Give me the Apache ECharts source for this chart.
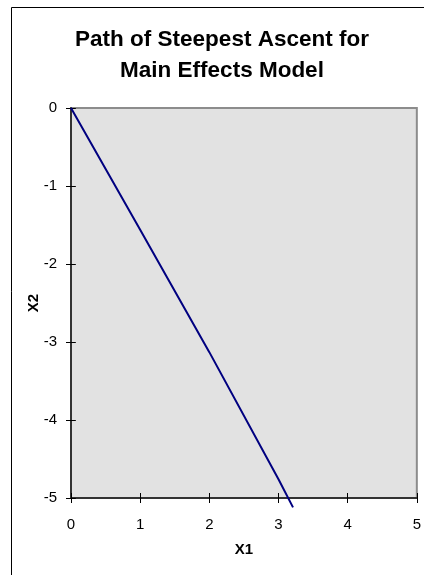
<!DOCTYPE html>
<html>
<head>
<meta charset="utf-8">
<script src="https://cdn.jsdelivr.net/npm/echarts@6/dist/echarts.min.js"></script>
<style>
  html, body { margin: 0; padding: 0; background: #fff; }
  #chart { width: 424px; height: 575px; }
</style>
</head>
<body>
<div id="chart"></div>
<script>
// path points
const x1Path = [0, 1, 2, 3, 3.21];
const x2Path = [0, -1.56, -3.13, -4.76, -5.12];
const titleText = 'Path of Steepest Ascent for\nMain Effects Model';

const font = '"Liberation Sans", Arial, sans-serif';
const pathData = x1Path.map((x, i) => [x, x2Path[i]]);

// grid box, the tick-only axes are shifted onto the left/bottom lines
const gridLeft = 71, gridTop = 108, gridRight = 7, gridBottom = 77;
const gridW = 424 - gridLeft - gridRight;
const gridH = 575 - gridTop - gridBottom;

const myChart = echarts.init(document.getElementById('chart'));
const option = {
    backgroundColor: '#fff',
    animation: false,
    graphic: [{
        type: 'rect',
        shape: { x: 11.5, y: 7.5, width: 500, height: 600 },
        style: { fill: 'none', stroke: '#000', lineWidth: 1 },
        z: -1
    }],
    title: {
        text: titleText,
        left: 222,
        top: 24,
        textAlign: 'center',
        padding: 0,
        textStyle: {
            fontFamily: font,
            fontSize: 22.5,
            fontWeight: 'bold',
            lineHeight: 31,
            color: '#000'
        }
    },
    grid: {
        left: gridLeft, top: gridTop, right: gridRight, bottom: gridBottom,
        show: true,
        backgroundColor: '#e2e2e2',
        borderColor: '#8c8c8c',
        borderWidth: 2
    },
    xAxis: [{
        type: 'value',
        min: 0, max: 5, interval: 1,
        name: 'X1',
        nameLocation: 'middle',
        nameGap: 44,
        nameMoveOverlap: false,
        nameTextStyle: { fontFamily: font, fontSize: 15, fontWeight: 'bold', color: '#000' },
        axisLine: { onZero: false, lineStyle: { color: '#333', width: 2 } },
        axisTick: { length: 5, lineStyle: { color: '#000' } },
        axisLabel: { margin: 19, fontFamily: font, fontSize: 15, color: '#000' },
        splitLine: { show: false }
    }, {
        // inner half of the crossing ticks
        type: 'value',
        min: 0, max: 5, interval: 1,
        position: 'top',
        offset: -gridH,
        axisLine: { show: false, onZero: false },
        axisTick: { length: 5, lineStyle: { color: '#000' } },
        axisLabel: { show: false },
        splitLine: { show: false }
    }],
    yAxis: [{
        type: 'value',
        min: -5, max: 0, interval: 1,
        name: 'X2',
        nameLocation: 'middle',
        nameGap: 30,
        nameMoveOverlap: false,
        nameTextStyle: { fontFamily: font, fontSize: 15, fontWeight: 'bold', color: '#000' },
        axisLine: { onZero: false, lineStyle: { color: '#333', width: 2 } },
        axisTick: { length: 5, lineStyle: { color: '#000' } },
        axisLabel: { margin: 14, fontFamily: font, fontSize: 15, color: '#000' },
        splitLine: { show: false }
    }, {
        type: 'value',
        min: -5, max: 0, interval: 1,
        position: 'right',
        offset: -gridW,
        axisLine: { show: false, onZero: false },
        axisTick: { length: 5, lineStyle: { color: '#000' } },
        axisLabel: { show: false },
        splitLine: { show: false }
    }],
    series: [{
        name: 'Path',
        type: 'line',
        data: pathData,
        clip: false,
        showSymbol: false,
        lineStyle: { color: '#000080', width: 2 }
    }]
};
myChart.setOption(option);
</script>
</body>
</html>
